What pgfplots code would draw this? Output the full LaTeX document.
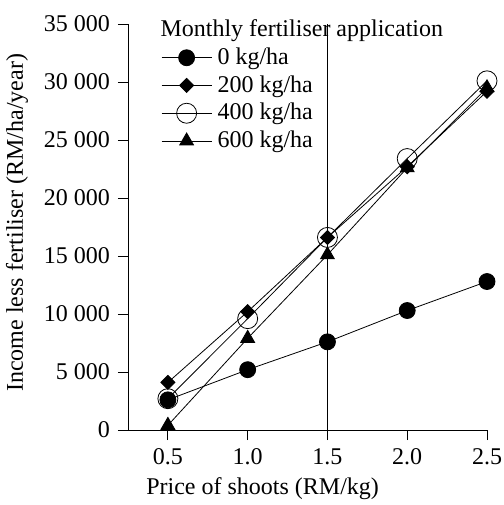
\documentclass[border=0pt]{standalone}
\usepackage{fontspec}
\setmainfont{Liberation Serif}
\usepackage{pgfplots}
\pgfplotsset{compat=1.18}
\begin{document}
\fontsize{24}{28}\selectfont
\begin{tikzpicture}[font=\fontsize{24}{28}\selectfont]
\useasboundingbox (0,0) rectangle (503pt,505pt);
\begin{axis}[
  at={(128pt,75pt)}, anchor=south west,
  scale only axis, width=359pt, height=406pt,
  xmin=0.25, xmax=2.5, ymin=0, ymax=35000,
  axis x line=bottom, axis y line=left,
  axis line style={-, line width=0.8pt, black},
  tick align=outside, major tick length=10pt,
  tick style={line width=0.8pt, black},
  xtick={0.5,1.0,1.5,2.0,2.5},
  ytick={0,5000,10000,15000,20000,25000,30000,35000},
  /pgf/number format/assume math mode=true,
  xticklabel style={/pgf/number format/.cd, fixed, fixed zerofill, precision=1},
  yticklabel style={/pgf/number format/.cd, fixed, 1000 sep={\ }},
  scaled y ticks=false,
  xlabel={Price of shoots (RM/kg)},
  ylabel={Income less fertiliser (RM/ha/year)},
  xlabel style={at={(axis description cs:0.375,-0.16)}, anchor=base},
  ylabel style={at={(axis description cs:-0.2925,0.51)}, anchor=base},
  legend style={draw=none, fill=none, at={(axis description cs:0.092,1.015)}, anchor=north west,
    legend cell align=left, inner sep=0pt, row sep=4.5pt,
    nodes={inner sep=1.5pt}},
  legend image code/.code={\draw[mark repeat=2,mark phase=2] plot coordinates {(0pt,0pt) (25pt,0pt) (50pt,0pt)};\path (54pt,0pt);},
  every axis plot/.append style={black, line width=0.8pt},
]
\addlegendimage{empty legend}
\addlegendentry{\hspace*{-57pt}Monthly fertiliser application}
\addplot[mark=*, mark size=8pt] coordinates {(0.5,2600) (1.0,5200) (1.5,7600) (2.0,10300) (2.5,12800)};
\addlegendentry{0 kg/ha}
\addplot[mark=square*, mark size=5pt, mark options={rotate=45}] coordinates {(0.5,4100) (1.0,10200) (1.5,16600) (2.0,22700) (2.5,29200)};
\addlegendentry{200 kg/ha}
\addplot[mark=o, mark size=10pt] coordinates {(0.5,2700) (1.0,9600) (1.5,16600) (2.0,23400) (2.5,30100)};
\addlegendentry{400 kg/ha}
\addplot[mark=triangle*, mark size=8pt] coordinates {(0.5,400) (1.0,7900) (1.5,15100) (2.0,22600) (2.5,29500)};
\addlegendentry{600 kg/ha}
\addplot[forget plot] coordinates {(1.5,0) (1.5,35000)};
\end{axis}
\end{tikzpicture}
\end{document}
